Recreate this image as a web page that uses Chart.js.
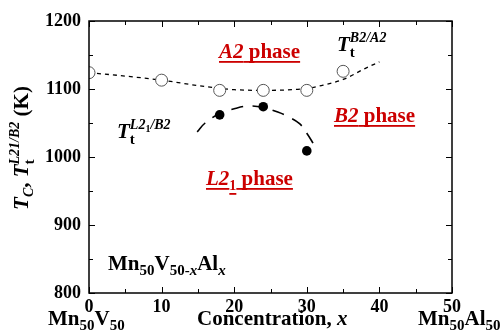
<!DOCTYPE html>
<html>
<head>
<meta charset="utf-8">
<script src="https://cdn.jsdelivr.net/npm/chart.js@4"></script>
<style>
  body { margin: 0; background: #fff; }
  #wrap { width: 502px; height: 336px; position: relative; }
</style>
</head>
<body>
<div id="wrap"><canvas id="chart"></canvas></div>
<script>
// measured points
const openX = [0, 10, 18, 24, 30, 35];
const openY = [1124, 1113, 1098, 1098, 1098, 1126];
const filledX = [18, 24, 30];
const filledY = [1062, 1074, 1009];

// guide curves (B2/A2 upper, L21/B2 lower)
const upperX = [0, 5, 10, 15, 18, 20, 24, 28, 30, 32, 35, 38, 40];
const upperY = [1124, 1119, 1113, 1105, 1101, 1099, 1098, 1099, 1101, 1105, 1114, 1130, 1140];
const lowerX = [14.9, 16, 18, 20, 22, 24, 26, 27.5, 29, 30, 31];
const lowerY = [1037, 1050, 1064, 1071, 1075, 1073, 1066, 1059, 1049, 1035, 1018];

const xTicks = [0, 10, 20, 30, 40, 50];
const yTicks = [800, 900, 1000, 1100, 1200];

const pts = (xs, ys) => xs.map((x, i) => ({ x, y: ys[i] }));

const SERIF = '"Liberation Serif", "DejaVu Serif", serif';
const f = (size, italic) => (italic ? 'italic ' : '') + 'bold ' + size + 'px ' + SERIF;
const RED = '#cc0000';

// draw a run of text pieces; piece.keep = next piece starts at same x (sub/sup stacking)
function rich(ctx, x, y, parts, underline) {
    let cx = x, kept = 0;
    for (const p of parts) {
        ctx.font = p.f;
        const w = ctx.measureText(p.t).width;
        const by = y + (p.dy || 0);
        if (ctx._draw !== false) {
            ctx.fillText(p.t, cx, by);
            if (underline) ctx.fillRect(cx, by + 3, w, 1.8);
        }
        if (p.keep) { kept = w; continue; }
        cx += Math.max(w, kept);
        kept = 0;
    }
    return cx - x;
}

function richWidth(ctx, parts) {
    ctx._draw = false;
    const w = rich(ctx, 0, 0, parts);
    ctx._draw = true;
    return w;
}

const decor = {
    id: 'decor',
    afterDraw(chart) {
        const { ctx, chartArea: a, scales: { x, y } } = chart;
        ctx.save();
        ctx.strokeStyle = '#000';
        ctx.fillStyle = '#000';

        // frame
        ctx.lineWidth = 1.5;
        ctx.strokeRect(a.left, a.top, a.right - a.left, a.bottom - a.top);

        // inward ticks on all four sides
        ctx.lineWidth = 1;
        ctx.beginPath();
        for (let v = 0; v <= 50; v += 5) {
            const px = Math.round(x.getPixelForValue(v)) + 0.5;
            const len = v % 10 === 0 ? 6 : 4;
            ctx.moveTo(px, a.bottom); ctx.lineTo(px, a.bottom - len);
            ctx.moveTo(px, a.top); ctx.lineTo(px, a.top + len);
        }
        for (let v = 800; v <= 1200; v += 50) {
            const py = Math.round(y.getPixelForValue(v)) + 0.5;
            const len = v % 100 === 0 ? 6 : 4;
            ctx.moveTo(a.left, py); ctx.lineTo(a.left + len, py);
            ctx.moveTo(a.right, py); ctx.lineTo(a.right - len, py);
        }
        ctx.stroke();

        ctx.textBaseline = 'alphabetic';
        ctx.textAlign = 'left';

        // phase labels
        ctx.fillStyle = RED;
        rich(ctx, 219, 58, [{ t: 'A2', f: f(21, true) }, { t: ' phase', f: f(21) }], true);
        rich(ctx, 334, 122, [{ t: 'B2', f: f(21, true) }, { t: ' phase', f: f(21) }], true);
        rich(ctx, 206, 185, [{ t: 'L2', f: f(21, true) }, { t: '1', f: f(14), dy: 5 }, { t: ' phase', f: f(21) }], true);

        // curve labels
        ctx.fillStyle = '#000';
        rich(ctx, 337, 51, [
            { t: 'T', f: f(21, true) },
            { t: 't', f: f(15), dy: 6, keep: true },
            { t: 'B2/A2', f: f(14, true), dy: -9 }
        ]);
        rich(ctx, 117, 138, [
            { t: 'T', f: f(21, true) },
            { t: 't', f: f(15), dy: 6, keep: true },
            { t: 'L2', f: f(14, true), dy: -9 },
            { t: '1', f: f(10), dy: -6 },
            { t: '/B2', f: f(14, true), dy: -9 }
        ]);

        // compound
        rich(ctx, 108, 270, [
            { t: 'Mn', f: f(21) }, { t: '50', f: f(15), dy: 5 },
            { t: 'V', f: f(21) }, { t: '50-', f: f(15), dy: 5 }, { t: 'x', f: f(15, true), dy: 5 },
            { t: 'Al', f: f(21) }, { t: 'x', f: f(15, true), dy: 5 }
        ]);

        // bottom labels
        rich(ctx, 48, 325, [{ t: 'Mn', f: f(21) }, { t: '50', f: f(15), dy: 5 }, { t: 'V', f: f(21) }, { t: '50', f: f(15), dy: 5 }]);
        rich(ctx, 197, 325, [{ t: 'Concentration, ', f: f(21) }, { t: 'x', f: f(21, true) }]);
        rich(ctx, 418, 325, [{ t: 'Mn', f: f(21) }, { t: '50', f: f(15), dy: 5 }, { t: 'Al', f: f(21) }, { t: '50', f: f(15), dy: 5 }]);

        // y axis title, rotated
        const title = [
            { t: 'T', f: f(21, true) }, { t: 'C', f: f(14, true), dy: 5 },
            { t: ', ', f: f(21) },
            { t: 'T', f: f(21, true) },
            { t: 't', f: f(15), dy: 6, keep: true },
            { t: 'L21/B2', f: f(14, true), dy: -9 },
            { t: ' (K)', f: f(21) }
        ];
        const tw = richWidth(ctx, title);
        ctx.translate(28, 148);
        ctx.rotate(-Math.PI / 2);
        rich(ctx, -tw / 2, 0, title);

        ctx.restore();
    }
};

new Chart(document.getElementById('chart'), {
    type: 'scatter',
    data: {
        datasets: [
            {
                data: pts(openX, openY),
                pointRadius: 6, pointBackgroundColor: '#fff', pointBorderColor: '#555', pointBorderWidth: 1,
                order: 1
            },
            {
                data: pts(filledX, filledY),
                pointRadius: 4.8, pointBackgroundColor: '#000', pointBorderColor: '#000', pointBorderWidth: 0,
                order: 1
            },
            {
                data: pts(upperX, upperY),
                showLine: true, pointRadius: 0, borderColor: '#000', borderWidth: 1.3,
                borderDash: [4, 4], tension: 0.4, cubicInterpolationMode: 'monotone',
                order: 2
            },
            {
                data: pts(lowerX, lowerY),
                showLine: true, pointRadius: 0, borderColor: '#000', borderWidth: 1.6,
                borderDash: [12, 9], tension: 0.4,
                order: 2
            }
        ]
    },
    options: {
        responsive: true,
        maintainAspectRatio: false,
        animation: false,
        events: [],
        layout: { padding: { top: 21, right: 50, left: 0, bottom: 0 } },
        plugins: { legend: { display: false }, tooltip: { enabled: false } },
        scales: {
            x: {
                type: 'linear', min: 0, max: 50,
                afterBuildTicks: s => { s.ticks = xTicks.map(v => ({ value: v })); },
                afterFit: s => { s.height = 43; },
                grid: { display: false, drawTicks: false },
                border: { display: false },
                ticks: { color: '#000', padding: 4, font: { family: SERIF, size: 18, weight: 'bold' }, maxRotation: 0, callback: v => String(v) }
            },
            y: {
                type: 'linear', min: 800, max: 1200,
                afterBuildTicks: s => { s.ticks = yTicks.map(v => ({ value: v })); },
                afterFit: s => { s.width = 89; },
                grid: { display: false, drawTicks: false },
                border: { display: false },
                ticks: { color: '#000', padding: 8, font: { family: SERIF, size: 18, weight: 'bold' }, callback: v => String(v) }
            }
        }
    },
    plugins: [decor]
});
</script>
</body>
</html>
